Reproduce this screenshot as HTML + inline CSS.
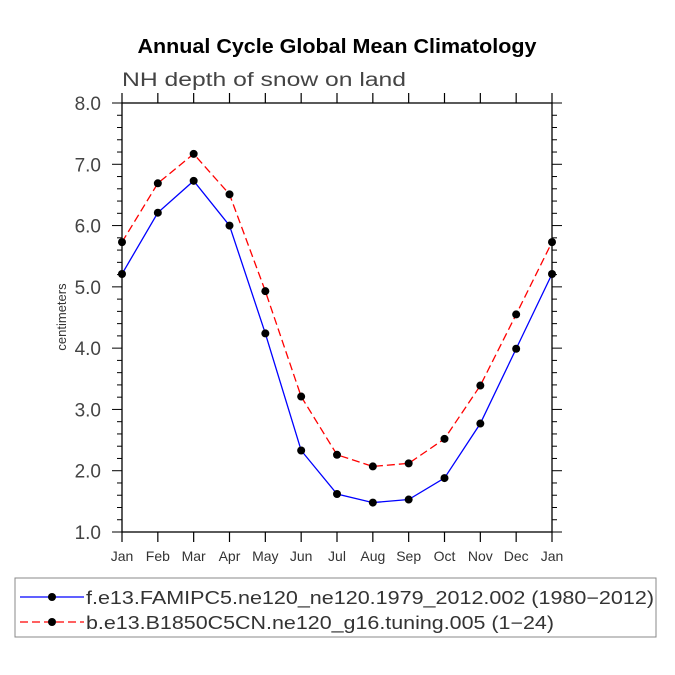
<!DOCTYPE html>
<html><head><meta charset="utf-8"><style>
body{margin:0;background:#fff;width:675px;height:675px;overflow:hidden}
svg{display:block}
text{font-family:"Liberation Sans",sans-serif}
</style></head><body>
<svg id="chart" width="675" height="675">
<text x="337" y="53" text-anchor="middle" font-size="20" font-weight="bold" textLength="399" lengthAdjust="spacingAndGlyphs">Annual Cycle Global Mean Climatology</text>
<text x="122" y="86" font-size="19" fill="#444" textLength="284" lengthAdjust="spacingAndGlyphs">NH depth of snow on land</text>
<text transform="translate(66,317) rotate(-90)" text-anchor="middle" font-size="13" fill="#333">centimeters</text>
<g id="axes"></g>
<g id="series"></g>
<rect x="15" y="578" width="641" height="59" fill="none" stroke="#888"/>
<g>
<line x1="20" y1="597" x2="84" y2="597" stroke="#0000ff" stroke-width="1.3"/>
<circle cx="52" cy="597" r="4" fill="#000"/>
<text x="86" y="604" font-size="18" fill="#333" textLength="568" lengthAdjust="spacingAndGlyphs">f.e13.FAMIPC5.ne120_ne120.1979_2012.002 (1980−2012)</text>
</g>
<g>
<line x1="20" y1="622" x2="84" y2="622" stroke="#ff0000" stroke-width="1.3" stroke-dasharray="8,4"/>
<circle cx="52" cy="622" r="4" fill="#000"/>
<text x="86" y="629" font-size="18" fill="#333" textLength="468" lengthAdjust="spacingAndGlyphs">b.e13.B1850C5CN.ne120_g16.tuning.005 (1−24)</text>
</g>
</svg>
<script>
const months=["Jan","Feb","Mar","Apr","May","Jun","Jul","Aug","Sep","Oct","Nov","Dec","Jan"];
const blueValues=[5.21,6.21,6.73,6.0,4.24,2.33,1.62,1.48,1.53,1.88,2.77,3.99,5.21];
const redValues=[5.73,6.69,7.17,6.51,4.93,3.21,2.26,2.07,2.12,2.52,3.39,4.55,5.73];
const yTicks=[1.0,2.0,3.0,4.0,5.0,6.0,7.0,8.0];
const L=122,R=552,T=103,B=532,yMin=1,yMax=8;
const xs=i=>L+(R-L)*i/(months.length-1);
const ys=v=>B-(v-yMin)/(yMax-yMin)*(B-T);
const NS="http://www.w3.org/2000/svg";
function mk(tag,attrs,parent){const e=document.createElementNS(NS,tag);for(const k in attrs)e.setAttribute(k,attrs[k]);parent.appendChild(e);return e;}
const ax=document.getElementById('axes');
const frame=mk('rect',{x:L,y:T,width:R-L,height:B-T,fill:'none',stroke:'#000','stroke-width':1.3},ax);


months.forEach((m,i)=>{
  const x=xs(i);
  mk('line',{x1:x,y1:B,x2:x,y2:B+10,stroke:'#000','stroke-width':1.2},ax);
  mk('line',{x1:x,y1:T,x2:x,y2:T-10,stroke:'#000','stroke-width':1.2},ax);
  const t=mk('text',{x:x,y:B+29,'text-anchor':'middle','font-size':14,fill:'#333'},ax);
  t.textContent=m;
  
  
});
for(let v=yMin;v<=yMax+1e-9;v+=0.2){
  const y=ys(v);const major=Math.abs(v-Math.round(v))<1e-6;const len=major?10:5;
  mk('line',{x1:L,y1:y,x2:L-len,y2:y,stroke:'#000','stroke-width':1},ax);
  mk('line',{x1:R,y1:y,x2:R+len,y2:y,stroke:'#000','stroke-width':1},ax);
}
yTicks.forEach(v=>{
  const t=mk('text',{x:101,y:ys(v)+7,'text-anchor':'end','font-size':19,fill:'#444'},ax);
  t.textContent=v.toFixed(1);
  
  
});
const sg=document.getElementById('series');
function draw(vals,color,dash,name){
  const p=mk('polyline',{points:vals.map((v,i)=>xs(i)+','+ys(v)).join(' '),fill:'none',stroke:color,'stroke-width':1.3,'stroke-dasharray':dash},sg);
  
  
  vals.forEach((v,i)=>{
    const c=mk('circle',{cx:xs(i),cy:ys(v),r:4,fill:'#000'},sg);
    
    
  });
}
draw(blueValues,'#0000ff','none','blue-series');
draw(redValues,'#ff0000','8,4','red-series');
</script>
</body></html>
